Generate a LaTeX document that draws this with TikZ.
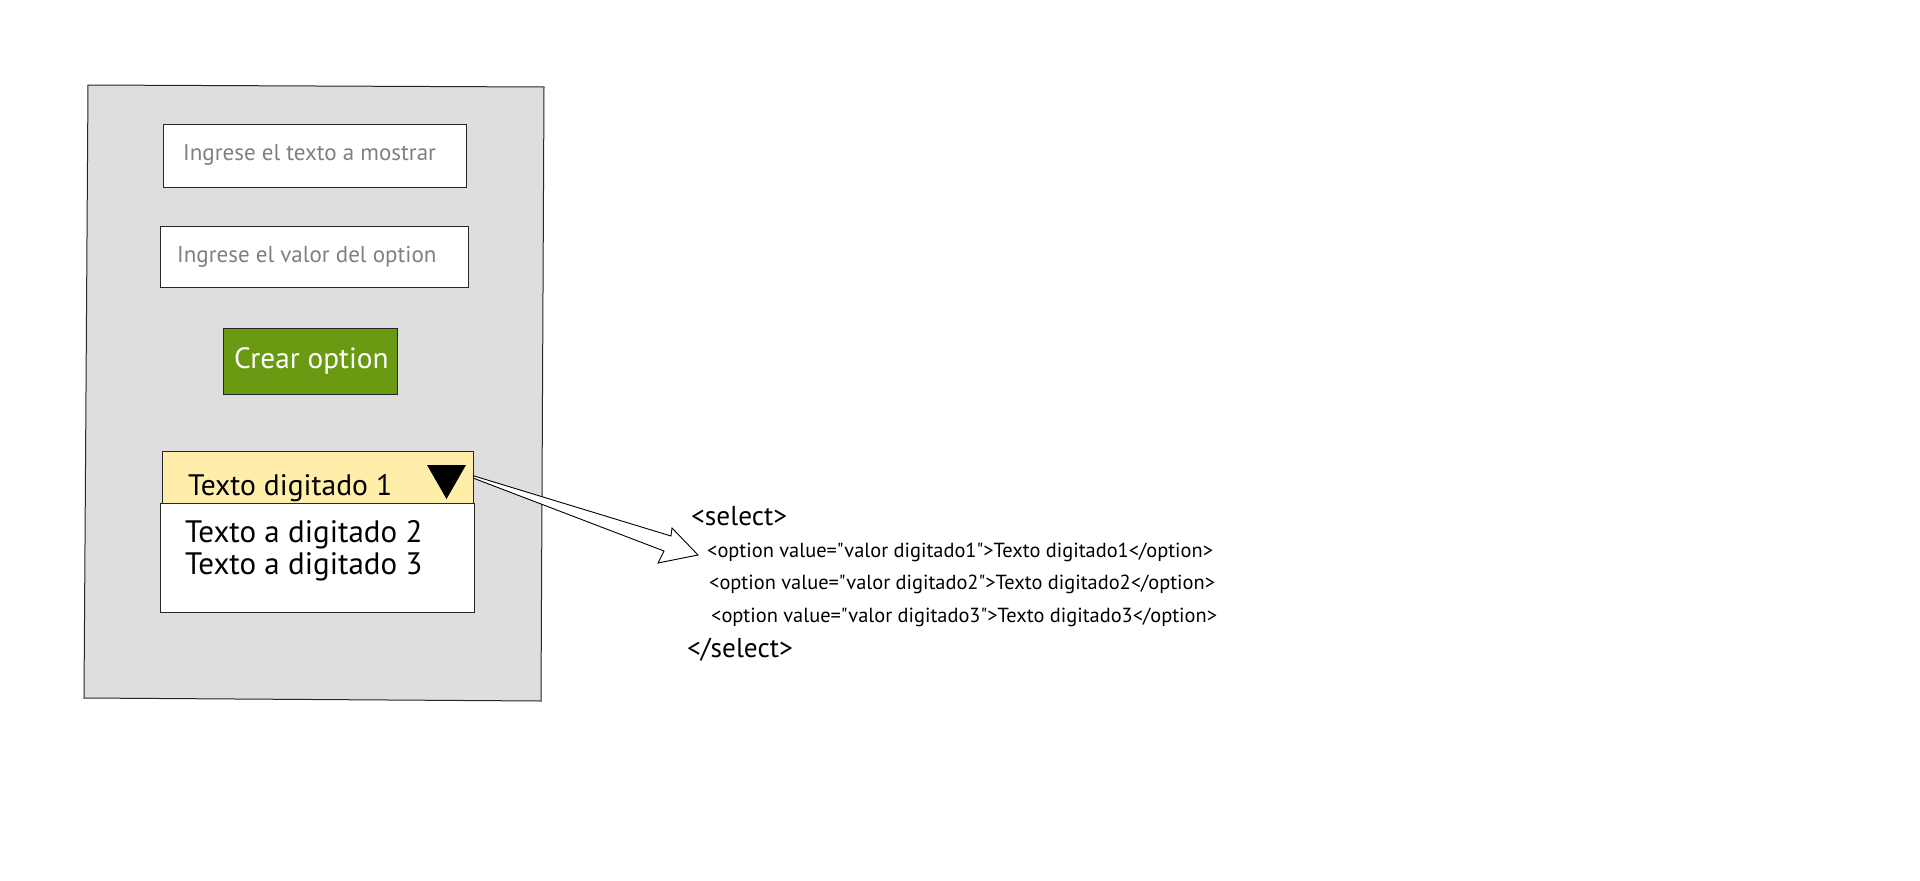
\documentclass[tikz,border=0pt]{standalone}
\usepackage{fontspec}
\setmainfont{PT Sans}[Ligatures=TeXOff]
\usetikzlibrary{calc}
\definecolor{panelgray}{HTML}{DEDEDE}
\definecolor{hintgray}{HTML}{808080}
\definecolor{btngreen}{HTML}{6A9A12}
\definecolor{selyellow}{HTML}{FFEEAA}
\tikzset{
  boxline/.style={draw=black!85, line width=1pt},
  inputbox/.style={boxline, fill=white, rectangle, inner sep=0pt},
  hint/.style={anchor=base west, inner sep=0pt, text=hintgray, font=\fontsize{23}{27}\selectfont},
  seltxt/.style={anchor=base west, inner sep=0pt, text=black, font=\fontsize{29.6}{33}\selectfont},
  listtxt/.style={anchor=base west, inner sep=0pt, text=black, font=\fontsize{31}{34}\selectfont},
  codetxt/.style={anchor=base west, inner sep=0pt, text=black, font=\fontsize{20.4}{24}\selectfont},
  tagtxt/.style={anchor=base west, inner sep=0pt, text=black, font=\fontsize{27.3}{31}\selectfont},
}
\begin{document}
\begin{tikzpicture}[x=1pt,y=-1pt]
\useasboundingbox (0,0) rectangle (1920,881);
% panel
\draw[boxline, fill=panelgray] (88,85) -- (544,87) -- (541,701) -- (84,698) -- cycle;
% input boxes
\node[inputbox, minimum width=303pt, minimum height=63pt] (in1) at (314.5,155.5) {};
\node[hint] (in1t) at (183,160) {Ingrese el texto a mostrar};
\node[inputbox, minimum width=308pt, minimum height=61pt] (in2) at (314,256.5) {};
\node[hint] (in2t) at (177,262) {Ingrese el valor del option};
% button
\node[boxline, fill=btngreen, rectangle, inner sep=0pt, minimum width=174pt, minimum height=66pt] (btn) at (310,361) {};
\node[anchor=base west, inner sep=0pt, text=white, font=\fontsize{29.3}{33}\selectfont] (btnt) at (234,368) {Crear option};
% select
\node[boxline, fill=selyellow, rectangle, inner sep=0pt, minimum width=311pt, minimum height=52pt] (sel) at (317.5,477) {};
\node[seltxt] (selt) at (188,495) {Texto digitado 1};
\fill[black] (427,465) -- (466,465) -- (446.5,499) -- cycle;
\node[inputbox, minimum width=314pt, minimum height=109pt] (lst) at (317,557.5) {};
\node[listtxt] (l2) at (185,542) {Texto a digitado 2};
\node[listtxt] (l3) at (185,574) {Texto a digitado 3};
% code
\node[tagtxt] (s1) at (691,525) {<select>};
\node[codetxt] (o1) at (707,557) {<option value="valor digitado1">Texto digitado1</option>};
\node[codetxt] (o2) at (709,589) {<option value="valor digitado2">Texto digitado2</option>};
\node[codetxt] (o3) at (711,622) {<option value="valor digitado3">Texto digitado3</option>};
\node[tagtxt] (s2) at (687,657) {</select>};
% arrow
\coordinate (tip) at (698,555);
\draw[line width=0.9pt, fill=white, line join=miter]
  ($(sel.east)+(0,-1.2)$) -- (671,536) -- (672,528) -- (tip) -- (658,563) -- (664,551) -- ($(sel.east)+(0,1.2)$) -- cycle;
\end{tikzpicture}
\end{document}
